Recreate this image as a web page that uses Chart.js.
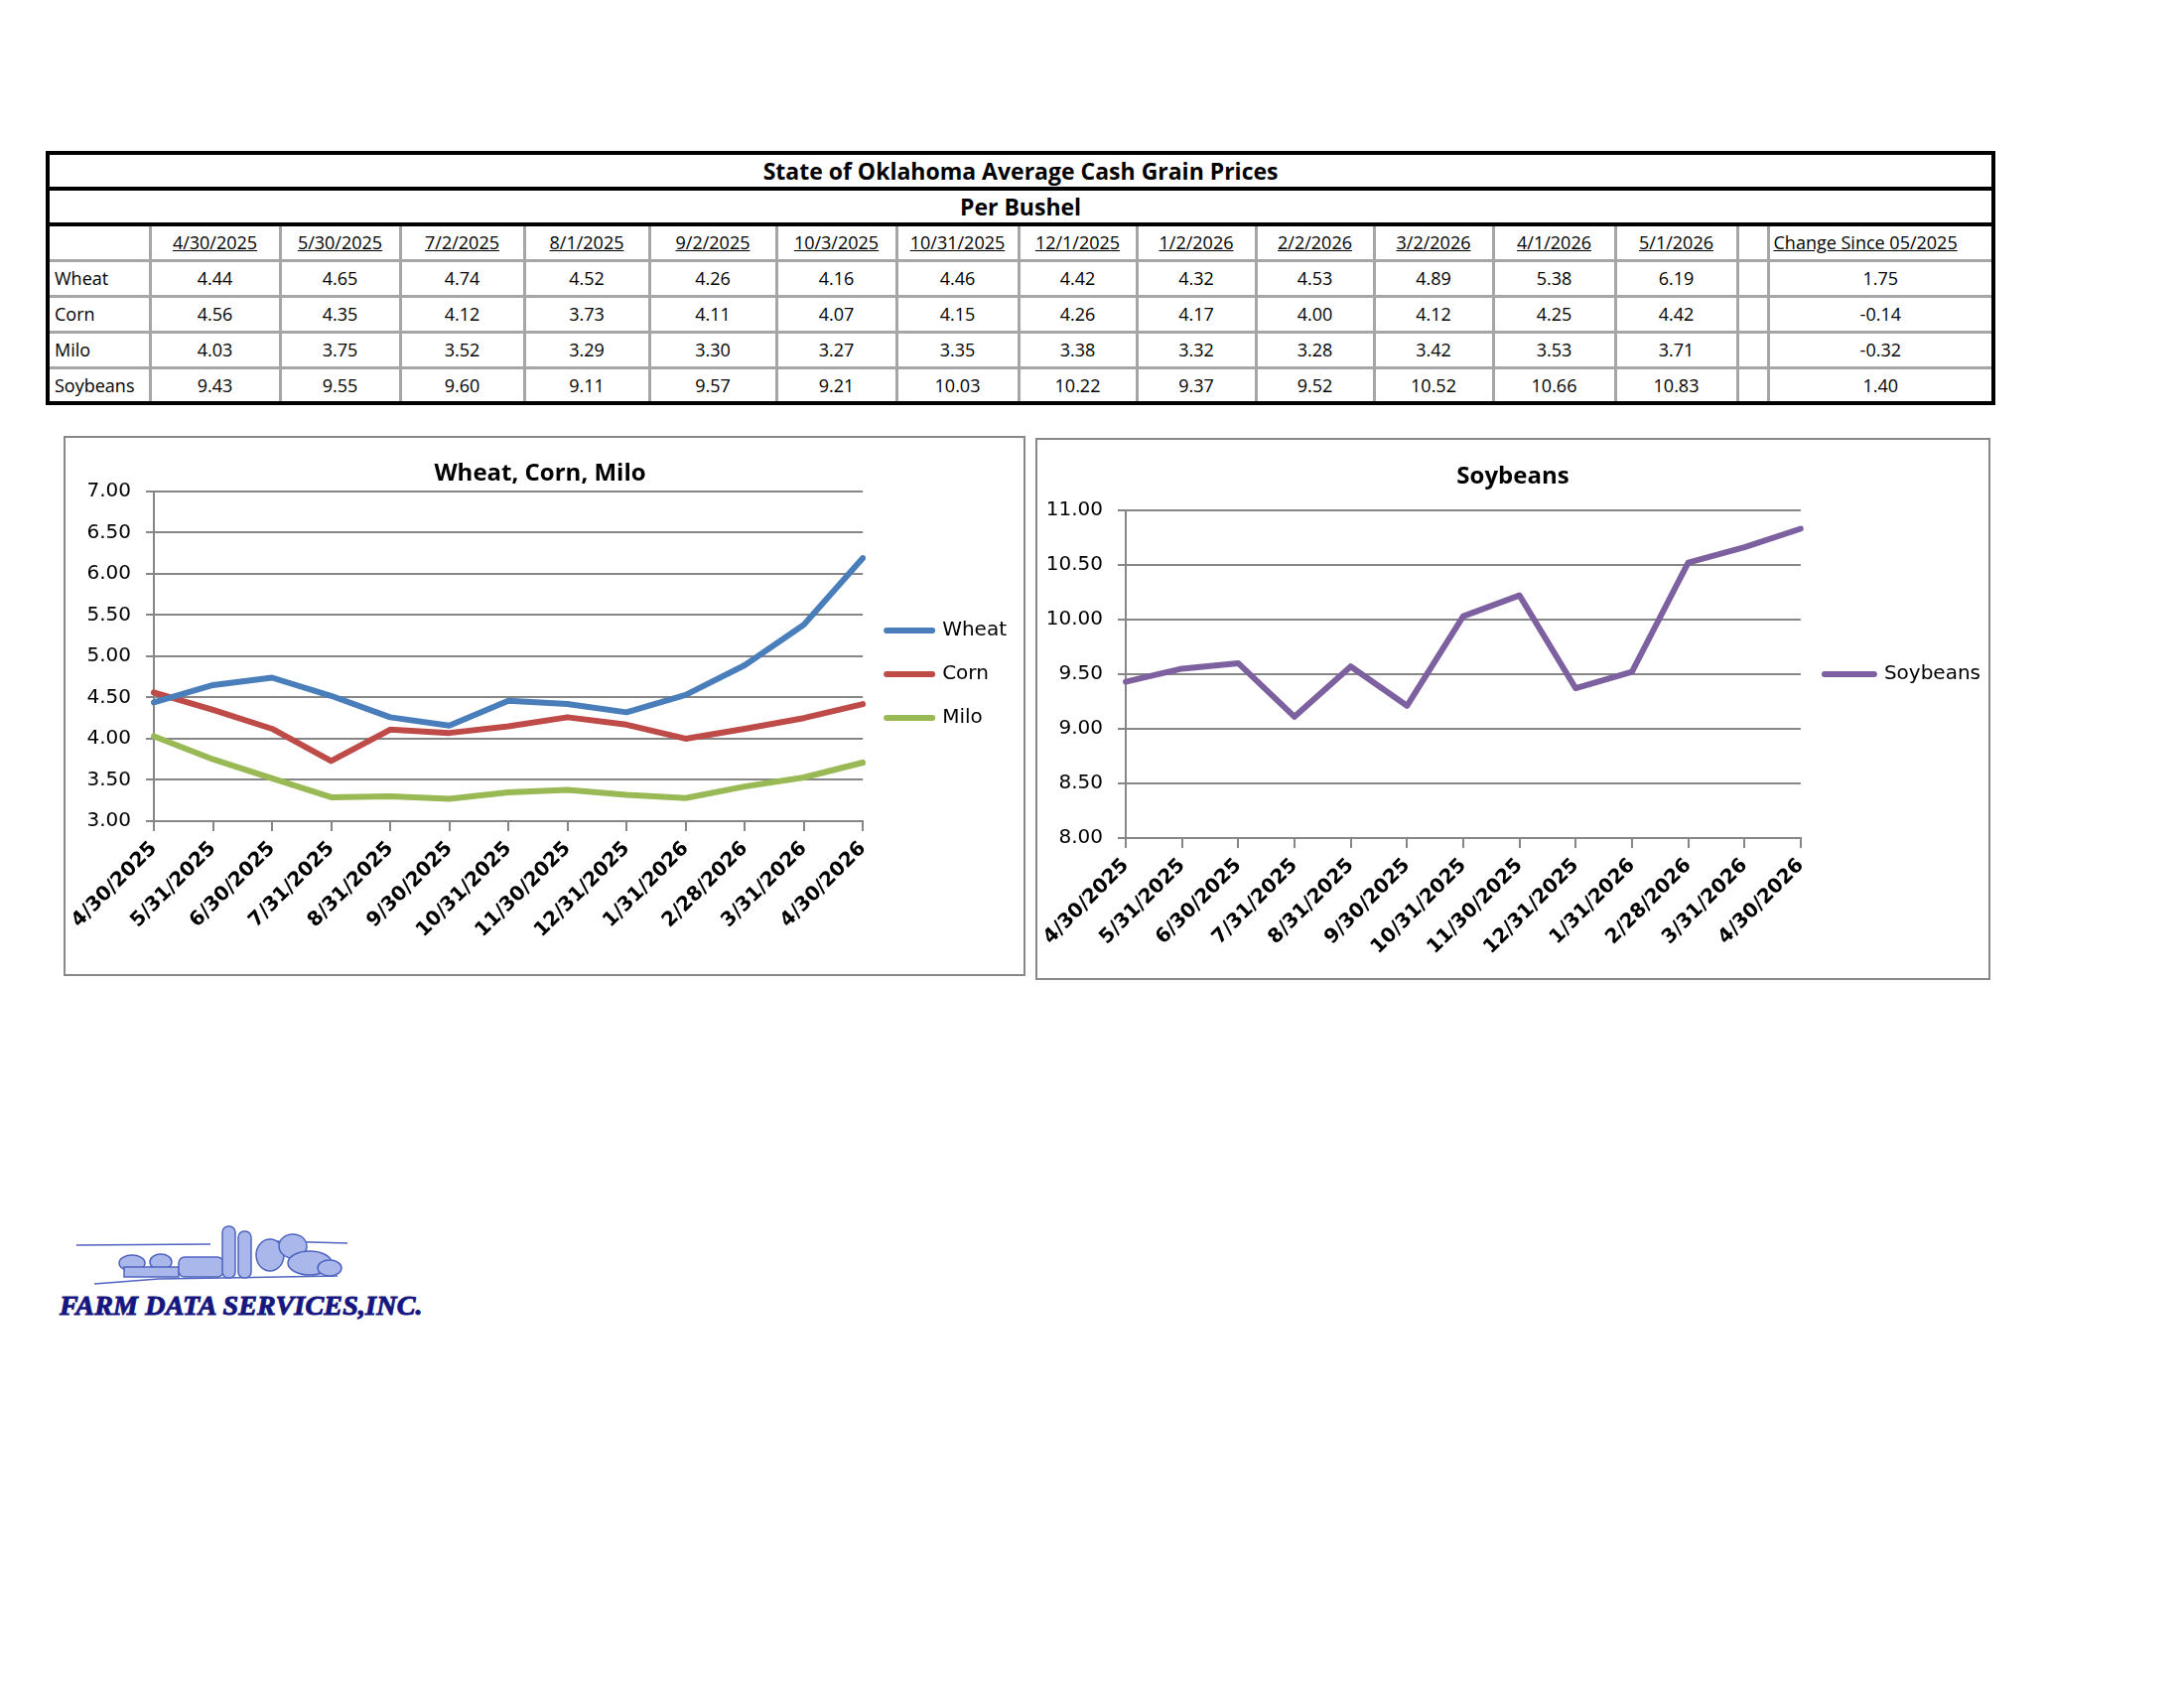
<!DOCTYPE html>
<html>
<head>
<meta charset="utf-8">
<title>State of Oklahoma Average Cash Grain Prices</title>
<script src="https://cdn.jsdelivr.net/npm/chart.js@4.4.1/dist/chart.umd.min.js"></script>
<style>
  html, body { margin: 0; padding: 0; background: #fff; }
  body { position: relative; width: 2200px; height: 1700px; overflow: hidden; }
  #prices { position: absolute; left: 46px; top: 152px; width: 1960px; border-collapse: collapse; table-layout: fixed;
            border: 4px solid #000; font-family: 'Open Sans', sans-serif; font-size: 18px; color: #000; }
  #prices tr { height: 36px; }
  #prices td { border: 3px solid #a6a6a6; padding: 0; text-align: center; white-space: nowrap; overflow: hidden; }
  #prices tr.head td { border: 4px solid #000; font-weight: bold; font-size: 23px; }
  #prices tr.dates td { text-decoration: underline; }
  #prices td.name { text-align: left; padding-left: 5px; }
  #prices td.chg { text-align: left; padding-left: 4px; }
  .box { position: absolute; border: 2px solid #888; box-sizing: border-box; }
  canvas { position: absolute; }
  #firm { position: absolute; left: 60px; top: 1299px; font: italic bold 28px 'Liberation Serif', serif;
          color: #16167f; -webkit-text-stroke: 1px #16167f; letter-spacing: 0.2px; }
  #farm { position: absolute; left: 40px; top: 1222px; }
</style>
</head>
<body>

<table id="prices"></table>

<div class="box" style="left:64px;top:439px;width:969px;height:544px"></div>
<canvas id="grainChart" width="969" height="544" style="left:64px;top:439px"></canvas>

<div class="box" style="left:1043px;top:441px;width:962px;height:546px"></div>
<canvas id="soyChart" width="962" height="546" style="left:1043px;top:441px"></canvas>

<svg id="farm" width="340" height="80" viewBox="0 0 340 80">
  <g fill="#a9b7ea" stroke="#4f64c0" stroke-width="1.5">
    <path d="M37 32 L172 31 M236 28 L310 30" fill="none"/>
    <path d="M55 71 L120 66 L300 63" fill="none"/>
    <ellipse cx="93" cy="50" rx="13" ry="8"/>
    <ellipse cx="122" cy="49" rx="11" ry="8"/>
    <rect x="85" y="54" width="55" height="10"/>
    <rect x="140" y="44" width="45" height="20" rx="6"/>
    <rect x="184" y="13" width="13" height="52" rx="6"/>
    <rect x="200" y="18" width="13" height="47" rx="6"/>
    <ellipse cx="232" cy="42" rx="14" ry="16"/>
    <ellipse cx="255" cy="33" rx="14" ry="12"/>
    <ellipse cx="272" cy="50" rx="22" ry="12"/>
    <ellipse cx="292" cy="55" rx="12" ry="8"/>
  </g>
</svg>
<div id="firm">FARM DATA SERVICES,INC.</div>

<script>
// dates of the table columns
const surveyDates = ['4/30/2025', '5/30/2025', '7/2/2025', '8/1/2025', '9/2/2025', '10/3/2025', '10/31/2025',
                     '12/1/2025', '1/2/2026', '2/2/2026', '3/2/2026', '4/1/2026', '5/1/2026'];
// category labels of the two charts
const monthEnds = ['4/30/2025', '5/31/2025', '6/30/2025', '7/31/2025', '8/31/2025', '9/30/2025', '10/31/2025',
                   '11/30/2025', '12/31/2025', '1/31/2026', '2/28/2026', '3/31/2026', '4/30/2026'];

const wheat    = [4.44, 4.65, 4.74, 4.52, 4.26, 4.16, 4.46, 4.42, 4.32, 4.53, 4.89, 5.38, 6.19];
const corn     = [4.56, 4.35, 4.12, 3.73, 4.11, 4.07, 4.15, 4.26, 4.17, 4.00, 4.12, 4.25, 4.42];
const milo     = [4.03, 3.75, 3.52, 3.29, 3.30, 3.27, 3.35, 3.38, 3.32, 3.28, 3.42, 3.53, 3.71];
const soybeans = [9.43, 9.55, 9.60, 9.11, 9.57, 9.21, 10.03, 10.22, 9.37, 9.52, 10.52, 10.66, 10.83];
const changeSince = [1.75, -0.14, -0.32, 1.40];

const crops = ['Wheat', 'Corn', 'Milo', 'Soybeans'];
const grainAxis = [3, 7];     // y range of the wheat/corn/milo chart
const soyAxis = [8, 11];      // y range of the soybean chart
const axisStep = 0.5;

// ---- table ----
const table = document.getElementById('prices');
const colWidths = [103, 131, 121, 125, 126, 128, 121, 123, 119, 120, 119, 120, 123, 123, 31, 227];
const colgroup = document.createElement('colgroup');
colWidths.forEach(w => {
    const c = document.createElement('col');
    c.style.width = w + 'px';
    colgroup.appendChild(c);
});
table.appendChild(colgroup);

function addRow(cells, cls) {
    const tr = table.insertRow();
    if (cls) tr.className = cls;
    cells.forEach(c => {
        const td = tr.insertCell();
        td.textContent = c.text;
        if (c.span) td.colSpan = c.span;
        if (c.cls) td.className = c.cls;
    });
}

addRow([{ text: 'State of Oklahoma Average Cash Grain Prices', span: 16 }], 'head');
addRow([{ text: 'Per Bushel', span: 16 }], 'head');
addRow([{ text: '' }, ...surveyDates.map(d => ({ text: d })), { text: '' }, { text: 'Change Since 05/2025', cls: 'chg' }], 'dates');

const tableRows = [wheat, corn, milo, soybeans];
tableRows.forEach((vals, i) => {
    addRow([{ text: crops[i], cls: 'name' }, ...vals.map(v => ({ text: v.toFixed(2) })),
            { text: '' }, { text: changeSince[i].toFixed(2) }]);
});

// ---- charts ----
Chart.defaults.font.family = "'DejaVu Sans', sans-serif";
Chart.defaults.font.size = 20;
Chart.defaults.color = '#000';

const gridColor = '#868686';

function makeChart(id, title, sets, range, lay) {
    const ctx = document.getElementById(id).getContext('2d');
    return new Chart(ctx, {
        type: 'line',
        data: {
            labels: monthEnds,
            datasets: sets.map(s => ({
                label: s.label,
                data: s.data,
                borderColor: s.color,
                backgroundColor: s.color,
                borderWidth: 6,
                pointRadius: 0,
                tension: 0,
                borderJoinStyle: 'round',
                borderCapStyle: 'round',
                fill: false
            }))
        },
        options: {
            responsive: false,
            animation: false,
            layout: { padding: { left: 0, right: lay.right, top: 0, bottom: lay.bottom } },
            plugins: {
                title: {
                    display: true,
                    text: title,
                    color: '#000',
                    font: { family: "'Open Sans', sans-serif", size: 24, weight: 'bold' },
                    padding: { top: lay.titleTop, bottom: lay.titleBottom }
                },
                legend: {
                    position: 'right',
                    fullSize: false,
                    maxWidth: lay.legendWidth,
                    // empty title only pushes the entries down a little
                    title: { display: lay.legendShift > 0, text: '', font: { size: 10 },
                             padding: { top: 0, bottom: Math.max(lay.legendShift - 12, 0) } },
                    labels: { boxWidth: lay.sample, boxHeight: 0, padding: lay.legendPad, color: '#000', font: { size: 20 } }
                },
                tooltip: { enabled: false }
            },
            scales: {
                x: {
                    offset: false,
                    grid: { display: true, drawOnChartArea: false, color: gridColor, lineWidth: 2, tickLength: 10 },
                    border: { color: gridColor, width: 2 },
                    ticks: { autoSkip: false, minRotation: 45, maxRotation: 45, padding: 6, font: { weight: 'bold' } },
                    afterFit: s => { s.height = 130; }
                },
                y: {
                    min: range[0],
                    max: range[1],
                    grid: { color: gridColor, lineWidth: 2, tickLength: 8 },
                    border: { color: gridColor, width: 2 },
                    ticks: { stepSize: axisStep, padding: 15, callback: v => v.toFixed(2) },
                    afterFit: s => { s.width = 91; }
                }
            }
        }
    });
}

makeChart('grainChart', 'Wheat, Corn, Milo', [
    { label: crops[0], data: wheat, color: '#4a7ebb' },
    { label: crops[1], data: corn, color: '#be4b48' },
    { label: crops[2], data: milo, color: '#98b954' }
], grainAxis, { titleTop: 24, titleBottom: 3, bottom: 26, right: 9, legendWidth: 164, legendPad: 24, sample: 46, legendShift: 36 });

makeChart('soyChart', 'Soybeans', [
    { label: crops[3], data: soybeans, color: '#7d60a0' }
], soyAxis, { titleTop: 25, titleBottom: 19, bottom: 13, right: 0, legendWidth: 192, legendPad: 24, sample: 50, legendShift: 0 });
</script>
</body>
</html>
